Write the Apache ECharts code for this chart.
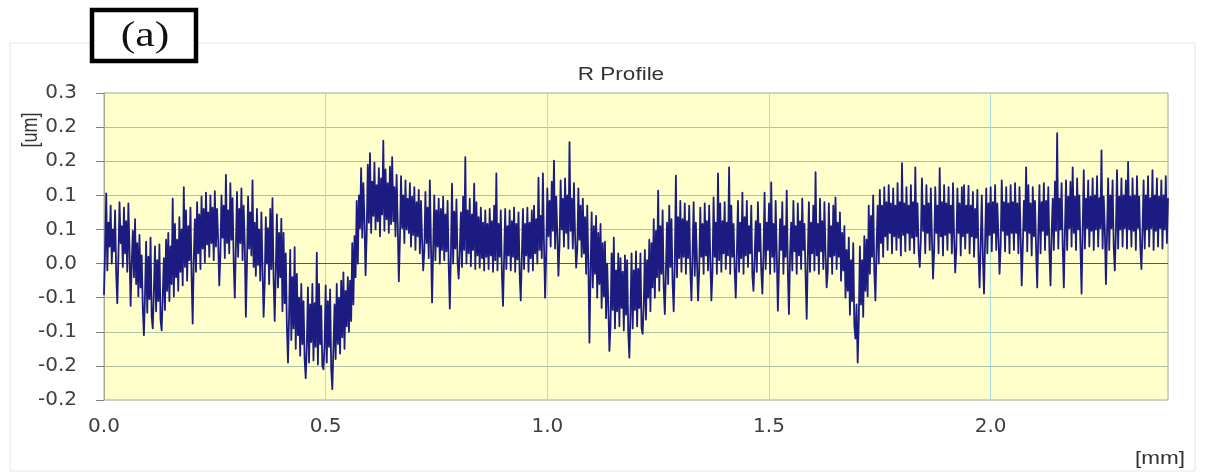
<!DOCTYPE html>
<html><head><meta charset="utf-8">
<script src="https://cdn.jsdelivr.net/npm/echarts@6/dist/echarts.min.js"></script>
<style>html,body{margin:0;padding:0;background:#fff}#c{width:1206px;height:476px}</style>
</head><body><div id="c"></div>
<script>
// sampling step along the profile (mm)
const xStep = 0.0025;
// R profile heights (um), one value per sample
const profile = [
 -0.045, 0.020, 0.103, -0.010, 0.060, 0.025, 0.085, 0.000, 0.050, 0.018, 0.078, -0.015, -0.058, 0.010, 0.090, 0.030, 0.055, -0.005, 0.082, 0.015,
 0.062, -0.012, 0.088, 0.020, -0.062, 0.000, 0.048, -0.020, 0.065, -0.030, 0.030, -0.048, 0.042, -0.035, 0.012, -0.065, -0.105, -0.045, 0.032, -0.072,
 0.010, -0.052, 0.038, -0.078, -0.095, -0.040, 0.025, -0.070, 0.005, -0.055, 0.028, -0.082, -0.098, -0.048, 0.008, -0.068, 0.035, -0.040, 0.045, -0.055,
 0.025, -0.030, 0.095, -0.048, 0.058, -0.020, 0.035, -0.040, 0.068, -0.012, 0.050, -0.032, 0.112, -0.005, 0.078, -0.025, 0.055, 0.005, 0.082, -0.018,
 -0.088, 0.008, 0.065, -0.012, 0.090, 0.015, 0.072, -0.008, 0.098, 0.022, 0.080, 0.002, 0.104, 0.028, 0.075, 0.010, 0.100, 0.030, 0.082, 0.005,
 0.106, 0.025, 0.080, 0.035, -0.032, 0.012, 0.100, 0.038, 0.085, 0.008, 0.130, 0.030, 0.078, 0.015, 0.118, 0.035, 0.096, 0.002, -0.050, 0.025,
 0.105, 0.010, 0.080, 0.030, 0.110, 0.005, 0.085, 0.028, -0.078, 0.000, 0.098, 0.022, 0.075, 0.012, 0.122, -0.005, 0.060, -0.018, 0.080, -0.002,
 0.050, -0.025, 0.075, -0.005, -0.078, -0.028, 0.068, 0.000, 0.052, -0.030, 0.080, -0.008, 0.096, -0.022, -0.084, -0.010, 0.072, -0.035, 0.045, -0.020,
 0.066, -0.070, 0.045, -0.058, 0.015, -0.092, -0.145, -0.075, 0.020, -0.112, -0.020, -0.095, 0.024, -0.125, -0.015, -0.105, -0.050, -0.135, -0.030, -0.118,
 -0.055, -0.140, -0.168, -0.120, -0.035, -0.145, -0.060, -0.115, -0.030, -0.142, -0.058, -0.122, 0.016, -0.148, -0.030, -0.118, -0.062, -0.150, -0.155, -0.120,
 -0.032, -0.145, -0.055, -0.122, -0.038, -0.155, -0.184, -0.125, -0.060, -0.140, -0.030, -0.118, -0.050, -0.132, -0.025, -0.108, -0.013, -0.125, -0.040, -0.092,
 -0.020, -0.100, -0.025, -0.084, 0.030, -0.060, 0.040, -0.020, 0.092, 0.000, 0.100, 0.052, 0.140, 0.038, 0.118, 0.065, -0.017, 0.042, 0.145, 0.060,
 0.162, 0.045, 0.120, 0.070, 0.148, 0.050, 0.115, 0.062, 0.140, 0.040, 0.125, 0.072, 0.180, 0.048, 0.138, 0.065, 0.118, 0.045, 0.142, 0.058,
 0.156, 0.062, 0.112, 0.040, 0.130, 0.058, -0.026, 0.035, 0.128, 0.052, 0.100, 0.030, 0.122, 0.050, 0.095, 0.045, 0.118, 0.025, 0.098, 0.042,
 0.112, 0.020, 0.090, 0.040, 0.108, 0.015, 0.092, 0.035, -0.010, 0.018, 0.105, 0.030, 0.082, 0.008, 0.122, 0.028, -0.057, 0.022, 0.100, 0.005,
 0.078, 0.025, 0.095, 0.000, 0.080, 0.020, 0.098, 0.005, 0.072, 0.018, 0.092, -0.002, -0.066, 0.015, 0.117, 0.000, 0.076, 0.022, 0.094, 0.002,
 -0.022, 0.018, 0.075, -0.005, 0.098, 0.020, 0.156, 0.000, 0.078, 0.015, 0.095, -0.004, 0.072, 0.020, 0.117, -0.008, 0.090, 0.012, 0.068, -0.006,
 0.082, 0.008, 0.060, -0.010, 0.078, 0.010, 0.058, -0.008, 0.080, 0.012, 0.062, -0.012, 0.085, 0.005, 0.132, -0.010, 0.058, 0.010, 0.078, -0.015,
 -0.062, 0.008, 0.080, -0.008, 0.055, 0.012, 0.078, -0.010, 0.062, 0.010, 0.082, -0.012, 0.058, 0.006, 0.075, -0.015, -0.054, 0.010, 0.080, -0.008,
 0.058, 0.012, 0.082, -0.012, 0.060, 0.008, 0.078, -0.010, 0.085, 0.015, 0.065, 0.000, 0.126, 0.020, 0.070, 0.008, 0.132, 0.028, -0.050, 0.015,
 0.110, 0.040, 0.092, 0.025, 0.120, 0.048, 0.151, 0.022, 0.098, 0.045, -0.018, 0.028, 0.122, 0.050, 0.095, 0.025, 0.125, 0.045, 0.100, 0.022,
 0.178, 0.048, 0.095, 0.022, 0.118, 0.042, -0.006, 0.020, 0.110, 0.035, 0.085, 0.010, 0.095, 0.015, 0.068, -0.015, 0.085, 0.000, -0.116, -0.010,
 0.075, -0.035, 0.055, -0.015, 0.070, -0.050, 0.045, -0.030, 0.058, -0.065, 0.030, -0.048, 0.032, -0.080, 0.000, -0.060, -0.128, -0.092, 0.015, -0.068,
 0.038, -0.095, -0.010, -0.070, 0.015, -0.092, 0.008, -0.065, -0.012, -0.098, 0.012, -0.075, 0.005, -0.100, -0.138, -0.072, 0.015, -0.095, -0.010, -0.068,
 0.018, -0.092, -0.008, -0.065, 0.015, -0.095, -0.103, -0.060, 0.020, -0.082, 0.005, -0.050, 0.035, -0.070, 0.030, -0.035, 0.065, -0.050, 0.048, -0.020,
 0.107, -0.040, 0.055, -0.015, 0.078, -0.035, -0.074, -0.010, 0.060, -0.030, 0.085, -0.005, 0.065, -0.028, -0.070, 0.000, 0.129, -0.020, 0.068, 0.008,
 0.092, -0.012, 0.065, 0.010, 0.088, -0.015, 0.062, 0.008, 0.085, -0.010, -0.054, 0.012, 0.090, -0.018, 0.060, 0.005, -0.054, -0.012, 0.082, 0.010,
 0.058, -0.015, 0.088, 0.012, 0.062, -0.010, 0.085, 0.008, -0.054, -0.012, 0.097, 0.010, 0.060, -0.015, 0.132, 0.005, 0.088, -0.012, 0.062, 0.015,
 0.090, -0.008, 0.060, 0.012, 0.141, -0.015, 0.085, 0.010, 0.058, -0.010, -0.050, 0.015, 0.092, -0.012, 0.060, 0.008, 0.104, -0.015, 0.068, 0.012,
 0.092, -0.005, 0.055, 0.015, 0.085, -0.018, -0.040, 0.008, 0.062, -0.012, 0.090, 0.018, 0.058, -0.010, -0.044, 0.012, 0.104, -0.008, 0.060, 0.020,
 0.088, -0.015, 0.119, 0.010, 0.058, -0.012, 0.092, 0.015, -0.069, -0.005, 0.065, 0.020, 0.090, -0.015, 0.055, 0.010, 0.107, -0.012, -0.074, 0.015,
 0.060, -0.010, 0.092, 0.018, 0.055, -0.015, 0.088, 0.012, 0.062, -0.008, 0.095, 0.020, 0.058, -0.018, -0.081, 0.010, 0.090, -0.012, 0.060, 0.015,
 0.085, -0.010, 0.134, 0.012, 0.058, -0.015, 0.095, 0.018, 0.062, -0.008, 0.090, 0.015, -0.035, -0.012, 0.088, 0.010, 0.055, -0.015, 0.085, 0.012,
 0.097, -0.008, 0.060, 0.010, 0.075, -0.025, 0.045, -0.010, 0.055, -0.050, 0.020, -0.040, 0.038, -0.075, 0.005, -0.055, 0.030, -0.090, -0.110, -0.060,
 -0.145, -0.085, 0.025, -0.060, 0.005, -0.078, 0.040, -0.040, 0.035, -0.048, 0.085, -0.015, 0.070, 0.010, 0.100, -0.010, -0.054, 0.020, 0.085, 0.000,
 0.108, 0.030, 0.085, 0.010, 0.112, 0.040, 0.090, 0.020, 0.115, 0.045, 0.088, 0.015, 0.110, 0.040, 0.085, 0.020, 0.118, 0.038, 0.090, 0.012,
 0.147, 0.042, 0.088, 0.018, 0.112, 0.045, 0.085, 0.020, 0.115, 0.038, 0.090, 0.015, 0.141, 0.040, 0.088, 0.018, -0.005, 0.035, 0.125, 0.048,
 0.085, 0.015, 0.115, 0.045, 0.088, 0.020, 0.110, 0.038, -0.022, 0.018, 0.112, 0.045, 0.085, 0.015, 0.140, 0.040, 0.090, 0.012, 0.115, 0.042,
 0.088, 0.020, 0.112, 0.045, 0.085, 0.015, 0.118, 0.040, -0.013, 0.020, 0.110, 0.045, 0.088, 0.012, 0.112, 0.040, 0.115, 0.022, 0.085, 0.045,
 0.114, 0.015, 0.085, 0.040, 0.105, 0.010, 0.080, 0.038, 0.108, 0.012, -0.035, 0.030, 0.100, 0.008, -0.044, 0.035, 0.110, 0.015, 0.088, 0.042,
 0.112, 0.018, 0.090, 0.045, 0.115, 0.020, 0.088, 0.040, -0.015, 0.025, 0.122, 0.048, 0.090, 0.018, 0.112, 0.042, 0.088, 0.015, 0.115, 0.045,
 0.090, 0.020, 0.118, 0.045, 0.088, 0.015, 0.112, 0.042, -0.032, 0.025, 0.092, 0.048, 0.141, 0.018, 0.115, 0.045, 0.088, 0.012, 0.112, 0.040,
 0.092, 0.020, -0.035, 0.045, 0.115, 0.015, 0.090, 0.048, 0.118, 0.020, 0.092, 0.042, 0.112, 0.018, -0.032, 0.045, 0.095, 0.020, 0.120, 0.048,
 0.191, 0.022, 0.095, 0.050, 0.118, 0.025, -0.035, 0.048, 0.122, 0.020, 0.098, 0.052, 0.120, 0.025, 0.141, 0.045, 0.098, 0.020, 0.125, 0.050,
 0.100, 0.025, -0.044, 0.050, 0.137, 0.022, 0.095, 0.052, 0.122, 0.025, 0.098, 0.048, 0.125, 0.020, 0.100, 0.050, 0.128, 0.025, 0.096, 0.052,
 0.166, 0.022, 0.098, 0.050, -0.030, 0.045, 0.125, 0.020, 0.100, 0.052, 0.122, 0.025, -0.010, 0.048, 0.137, 0.022, 0.098, 0.050, 0.125, 0.025,
 0.100, 0.052, 0.122, 0.022, 0.149, 0.050, 0.098, 0.025, 0.125, 0.048, 0.100, 0.020, 0.128, 0.052, 0.098, 0.025, -0.008, 0.048, 0.122, 0.022,
 0.100, 0.050, 0.128, 0.025, 0.096, 0.052, 0.137, 0.020, 0.100, 0.048, 0.125, 0.025, 0.098, 0.052, 0.122, 0.022, 0.100, 0.050, 0.128, 0.030,
 0.095
];
const xTickLabels = ['0.0', '0.5', '1.0', '1.5', '2.0'];
const yTickLabels = ['-0.2', '-0.2', '-0.1', '-0.1', '0.0', '0.1', '0.1', '0.2', '0.2', '0.3'];
const xMin = 0, xMax = 2.4, xInterval = 0.5;
const yMin = -0.2, yMax = 0.25, yInterval = 0.05;
const chartTitle = 'R Profile';
const yUnit = '[um]';
const xUnit = '[mm]';
const panelLabel = '(a)';

const seriesData = profile.map((v, i) => [+(i * xStep).toFixed(5), v]);

function tickLabel(labels, min, step) {
  return function (v) {
    const k = Math.round((v - min) / step);
    if (Math.abs(v - (min + k * step)) > 1e-6) return '';
    return labels[k] !== undefined ? labels[k] : '';
  };
}

const chart = echarts.init(document.getElementById('c'), null, { renderer: 'canvas' });
chart.setOption({
  animation: false,
  backgroundColor: '#ffffff',
  grid: {
    left: 104, right: 38, top: 93, bottom: 76,
    show: true, backgroundColor: '#ffffcc', borderColor: '#a8a890', borderWidth: 1
  },
  xAxis: {
    type: 'value', min: xMin, max: xMax, interval: xInterval,
    axisLine: { show: true, lineStyle: { color: '#a8a890', width: 1 } },
    axisTick: { show: false },
    splitLine: { show: true, showMinLine: false, showMaxLine: false, lineStyle: { color: '#a8dede', width: 1 } },
    axisLabel: {
      formatter: tickLabel(xTickLabels, xMin, xInterval), showMaxLabel: false,
      fontFamily: 'DejaVu Sans', fontSize: 20, color: '#404040', margin: 17
    }
  },
  yAxis: {
    type: 'value', min: yMin, max: yMax, interval: yInterval,
    axisLine: { show: true, lineStyle: { color: '#a8a890', width: 1 } },
    axisTick: { show: true, length: 8, lineStyle: { color: '#808080' } },
    splitLine: { show: true, showMinLine: false, showMaxLine: false, lineStyle: { color: '#a9c2a2', width: 1 } },
    axisLabel: {
      formatter: tickLabel(yTickLabels, yMin, yInterval),
      fontFamily: 'DejaVu Sans', fontSize: 20, color: '#404040', margin: 27
    }
  },
  series: [{
    type: 'line',
    data: seriesData,
    showSymbol: false,
    symbol: 'none',
    sampling: false,
    z: 3,
    lineStyle: { color: '#1b1b82', width: 1.8, join: 'round', cap: 'round' },
    markLine: {
      silent: true, symbol: 'none', z: 1, animation: false,
      label: { show: false },
      lineStyle: { color: '#555555', width: 1, type: 'solid' },
      data: [{ yAxis: 0 }]
    }
  }],
  graphic: [
    { type: 'rect', silent: true, z: -10, shape: { x: 10, y: 43, width: 1185, height: 428 },
      style: { fill: 'none', stroke: '#e6e6e6', lineWidth: 1 } },
    { type: 'rect', z: 10, shape: { x: 92, y: 10, width: 104, height: 51 },
      style: { fill: '#ffffff', stroke: '#000000', lineWidth: 4.5 } },
    { type: 'text', z: 11, x: 145, y: 37, scaleX: 1.25,
      style: { text: panelLabel, font: '35px "Liberation Serif"', fill: '#111', textAlign: 'center', textVerticalAlign: 'middle' } },
    { type: 'text', z: 11, x: 621, y: 75, scaleX: 1.25,
      style: { text: chartTitle, font: '18px "Liberation Sans"', fill: '#333', textAlign: 'center', textVerticalAlign: 'middle' } },
    { type: 'text', z: 11, x: 31, y: 130, rotation: Math.PI / 2, scaleY: 1.25,
      style: { text: yUnit, font: '18px "Liberation Sans"', fill: '#333', textAlign: 'center', textVerticalAlign: 'middle' } },
    { type: 'text', z: 11, x: 1160, y: 459, scaleX: 1.25,
      style: { text: xUnit, font: '18px "Liberation Sans"', fill: '#333', textAlign: 'center', textVerticalAlign: 'middle' } }
  ]
});
</script>
</body></html>
